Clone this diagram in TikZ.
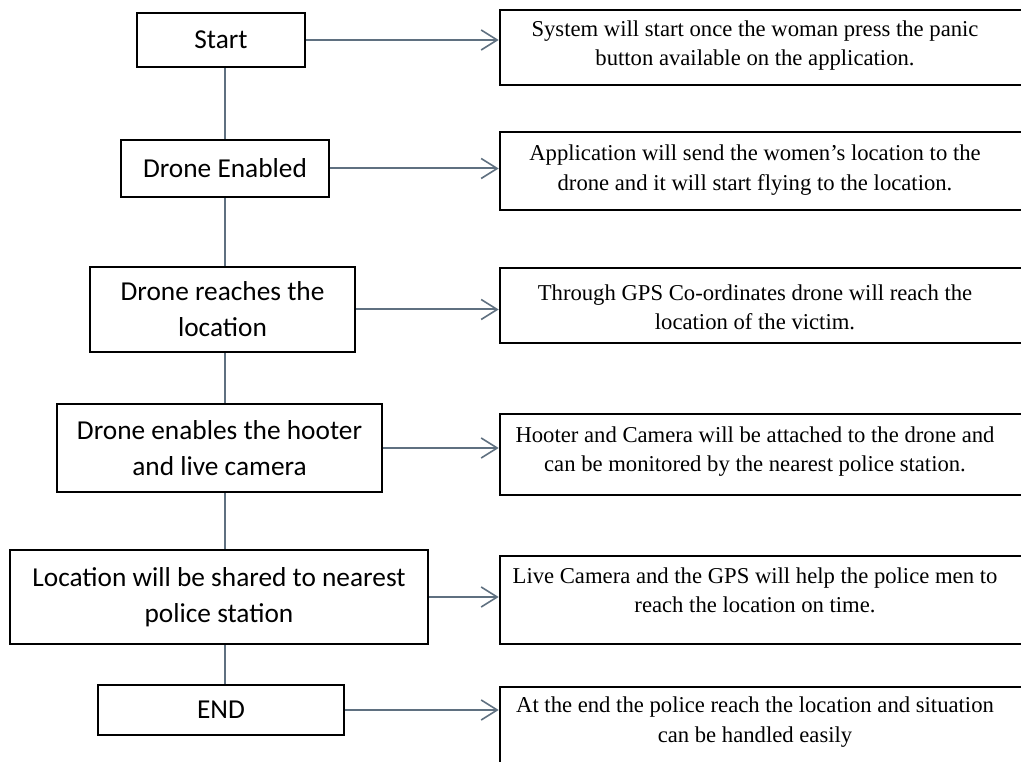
\documentclass[tikz,border=0pt]{standalone}
\usepackage{fontspec}
\setmainfont{Liberation Serif}
\newfontfamily\calib{Carlito}
\usetikzlibrary{arrows.meta}
\definecolor{conn}{HTML}{5F7080}
\begin{document}
\begin{tikzpicture}[x=0.75pt,y=-0.75pt,
  lbox/.style={draw=black,line width=2pt,inner sep=0pt,align=center,font=\calib\fontsize{20.5}{27}\selectfont},
  rbox/.style={draw=black,line width=2pt,inner sep=0pt,minimum width=540*0.75pt},
  rtext/.style={inner sep=0pt,align=center,font=\fontsize{17}{22}\selectfont},
  link/.style={draw=conn,line width=1.5pt},
  arr/.style={link,-{Straight Barb[length=12pt,width=15pt,line width=1.2pt]}}]
\useasboundingbox (0,0) rectangle (1021,762);
\fill[white] (0,0) rectangle (1021,762);
\clip (0,0) rectangle (1021,762);

% left column
\node[lbox,minimum width=168*0.75pt,minimum height=54*0.75pt] (s1) at (221,40) {Start};
\node[lbox,minimum width=208*0.75pt,minimum height=57*0.75pt] (s2) at (225,168.5) {Drone Enabled};
\node[lbox,minimum width=265*0.75pt,minimum height=85*0.75pt] (s3) at (222.5,309.5) {Drone reaches the\\location};
\node[lbox,minimum width=325*0.75pt,minimum height=88*0.75pt] (s4) at (219.5,448) {Drone enables the hooter\\and live camera};
\node[lbox,minimum width=418*0.75pt,minimum height=94*0.75pt] (s5) at (219,597) {Location will be shared to nearest\\police station};
\node[lbox,minimum width=246*0.75pt,minimum height=50*0.75pt] (s6) at (221,710) {END};

% right column boxes
\node[rbox,minimum height=75*0.75pt] (r1) at (770,47.5) {};
\node[rbox,minimum height=78*0.75pt] (r2) at (770,171) {};
\node[rbox,minimum height=75*0.75pt] (r3) at (770,305.5) {};
\node[rbox,minimum height=81*0.75pt] (r4) at (770,454.5) {};
\node[rbox,minimum height=88*0.75pt] (r5) at (770,600) {};
\node[rbox,minimum height=93*0.75pt] (r6) at (770,733.5) {};

% right column texts
\node[rtext] (t1) at (755,45.5) {System will start once the woman press the panic\\button available on the application.};
\node[rtext] (t2) at (755,170) {Application will send the women's location to the\\drone and it will start flying to the location.};
\node[rtext] (t3) at (755,307) {Through GPS Co-ordinates drone will reach the\\location of the victim.};
\node[rtext] (t4) at (755,451.5) {Hooter and Camera will be attached to the drone and\\can be monitored by the nearest police station.};
\node[rtext] (t5) at (755,590) {Live Camera and the GPS will help the police men to\\reach the location on time.};
\node[rtext] (t6) at (755,722) {At the end the police reach the location and situation\\can be handled easily};

% vertical trunk
\coordinate (trunk) at (225,0);
\draw[link] (s1.south -| trunk) -- (s2.north -| trunk);
\draw[link] (s2.south -| trunk) -- (s3.north -| trunk);
\draw[link] (s3.south -| trunk) -- (s4.north -| trunk);
\draw[link] (s4.south -| trunk) -- (s5.north -| trunk);
\draw[link] (s5.south -| trunk) -- (s6.north -| trunk);

% horizontal arrows
\draw[arr] (s1.east) -- (s1.east -| r1.west);
\draw[arr] (s2.east) -- (s2.east -| r2.west);
\draw[arr] (s3.east) -- (s3.east -| r3.west);
\draw[arr] (s4.east) -- (s4.east -| r4.west);
\draw[arr] (s5.east) -- (s5.east -| r5.west);
\draw[arr] (s6.east) -- (s6.east -| r6.west);
\end{tikzpicture}
\end{document}
